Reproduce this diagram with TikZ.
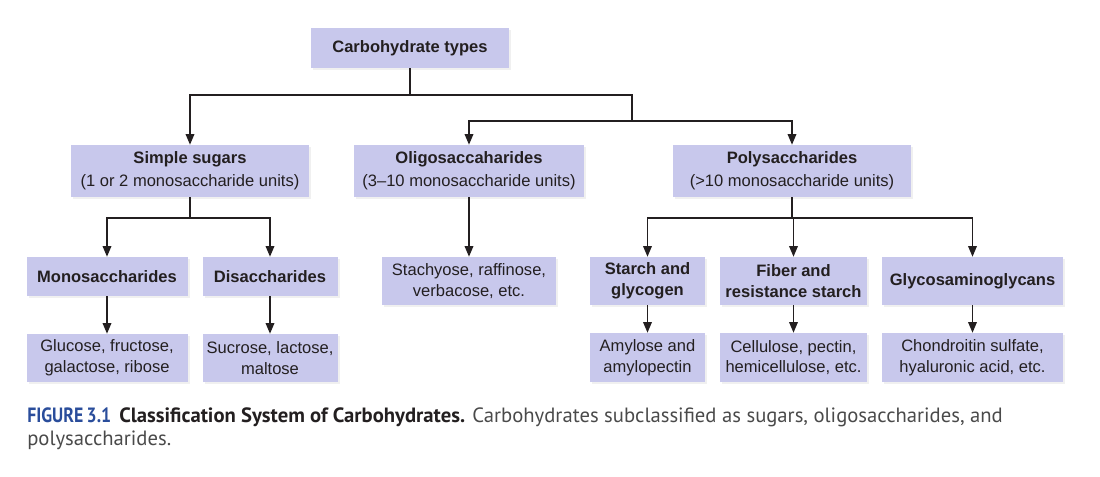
\documentclass[tikz,border=0pt]{standalone}
\usepackage{fontspec}
\setmainfont{Liberation Sans}
\newfontfamily\capfont{PT Sans}
\newfontfamily\capcond[FakeStretch=0.86]{PT Sans}
\usetikzlibrary{arrows.meta,shadows}
\definecolor{BoxFill}{HTML}{C8C8EC}
\definecolor{InkDark}{HTML}{231F20}
\definecolor{FigBlue}{HTML}{2A4D9B}
\definecolor{CapGray}{HTML}{4A4A4A}

\begin{document}
\begin{tikzpicture}[x=0.75pt,y=-0.75pt,
  every node/.style={font=\fontsize{12.4}{15.5}\selectfont, text=InkDark},
  box/.style={fill=BoxFill, align=center, inner sep=0pt,
    drop shadow={opacity=0.12, shadow xshift=1.5pt, shadow yshift=-1.5pt}},
  sz/.style 2 args={minimum width=#1*0.75pt, minimum height=#2*0.75pt},
  head/.style={box, font=\fontsize{12.4}{17}\selectfont},
  link/.style={draw=InkDark, line width=1pt},
  arr/.style={link, -{Triangle[length=8pt,width=6.5pt]}}]
  \useasboundingbox (0,0) rectangle (1100,477);

  \node[head, sz={198}{40}] (carb) at (410,48) {\bfseries Carbohydrate types};

  \node[head, sz={238}{52}] (simple) at (190,171) {\bfseries Simple sugars\\(1 or 2 monosaccharide units)};
  \node[head, sz={230}{52}] (oligo) at (469,171) {\bfseries Oligosaccaharides\\(3–10 monosaccharide units)};
  \node[head, sz={238}{52}] (poly) at (792,171) {\bfseries Polysaccharides\\(>10 monosaccharide units)};

  \node[box, sz={161}{39}] (mono) at (107,276.5) {\bfseries Monosaccharides};
  \node[box, sz={135}{39}] (di) at (270,276.5) {\bfseries Disaccharides};
  \node[box, sz={174}{48}] (stach) at (469,281) {Stachyose, raffinose,\\verbacose, etc.};
  \node[box, sz={115}{48}] (starch) at (647.5,281) {\bfseries Starch and\\\bfseries glycogen};
  \node[box, sz={147}{48}] (fiber) at (793.5,281) {\bfseries Fiber and\\\bfseries resistance starch};
  \node[box, sz={181}{48}] (gag) at (972.5,281) {\bfseries Glycosaminoglycans};

  \node[box, sz={161}{48}] (gluc) at (107,358) {Glucose, fructose,\\galactose, ribose};
  \node[box, sz={135}{48}] (sucr) at (270,358) {Sucrose, lactose,\\maltose};
  \node[box, sz={115}{49}] (amyl) at (647.5,357.5) {Amylose and\\amylopectin};
  \node[box, sz={147}{49}] (cell) at (793.5,357.5) {Cellulose, pectin,\\hemicellulose, etc.};
  \node[box, sz={181}{49}] (chon) at (972.5,357.5) {Chondroitin sulfate,\\hyaluronic acid, etc.};

  \coordinate (top) at (410,95);
  \coordinate (mid) at (632,121);
  \coordinate (sug) at (190,218);
  \coordinate (pol) at (792,218);

  \draw[link] (carb.south) -- (top);
  \draw[arr] (top) -| (simple.north);
  \draw[link] (top) -| (mid);
  \draw[arr] (mid) -| (oligo.north);
  \draw[arr] (mid) -| (poly.north);

  \draw[link] (simple.south) -- (sug);
  \draw[arr] (sug) -| (mono.north);
  \draw[arr] (sug) -| (di.north);
  \draw[arr] (oligo.south) -- (stach.north);

  \draw[link] (poly.south) -- (pol);
  \foreach \n in {starch,fiber,gag}
    \draw[arr] (pol) -| (\n.north);

  \draw[arr] (mono.south) -- (gluc.north);
  \draw[arr] (di.south) -- (sucr.north);
  \draw[arr] (starch.south) -- (amyl.north);
  \draw[arr] (fiber.south) -- (cell.north);
  \draw[arr] (gag.south) -- (chon.north);

  \node[anchor=base west, inner sep=0pt, text=CapGray, font=\capfont\fontsize{15.5}{18}\selectfont] (cap1) at (27,422)
    {{\capcond\bfseries\color{FigBlue}FIGURE\,3.1}\hspace{6pt}{\bfseries\color{InkDark}Classification System of Carbohydrates.} Carbohydrates subclassified as sugars, oligosaccharides, and};
  \node[anchor=base west, inner sep=0pt, text=CapGray, font=\capfont\fontsize{15.5}{18}\selectfont] (cap2) at (27,445) {polysaccharides.};
\end{tikzpicture}
\end{document}
